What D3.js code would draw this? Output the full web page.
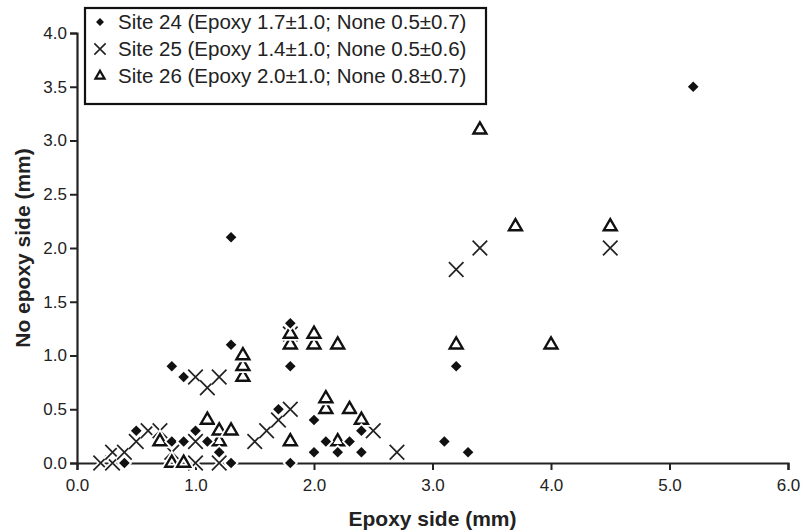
<!DOCTYPE html>
<html>
<head>
<meta charset="utf-8">
<script src="https://cdn.jsdelivr.net/npm/d3@7"></script>
<style>
  body { margin: 0; background: #fff; }
  svg { display: block; font-family: "Liberation Sans", Arial, sans-serif; }
</style>
</head>
<body>
<div id="chart"></div>
<script>
// data: [epoxy side, no epoxy side] in mm
const site24 = [[0.4,0],[0.5,0.3],[0.8,0.2],[0.8,0.9],[0.9,0.2],[0.9,0.8],[1.0,0.3],[1.1,0.2],[1.2,0.1],[1.3,0],[1.3,1.1],[1.3,2.1],
  [1.7,0.5],[1.8,0],[1.8,0.9],[1.8,1.3],[2.0,0.1],[2.0,0.4],[2.1,0.2],[2.2,0.1],[2.3,0.2],[2.4,0.1],[2.4,0.3],
  [3.1,0.2],[3.2,0.9],[3.3,0.1],[5.2,3.5]];
const site25 = [[0.2,0],[0.3,0],[0.3,0.1],[0.4,0.1],[0.5,0.2],[0.6,0.3],[0.7,0.3],[0.8,0.1],[1.0,0],[1.0,0.2],[1.0,0.8],[1.1,0.7],
  [1.2,0],[1.2,0.8],[1.5,0.2],[1.6,0.3],[1.7,0.4],[1.8,0.5],[1.8,1.2],[2.5,0.3],[2.7,0.1],[3.2,1.8],[3.4,2.0],[4.5,2.0]];
const site26 = [[0.7,0.2],[0.8,0],[0.9,0],[1.1,0.4],[1.2,0.2],[1.2,0.3],[1.3,0.3],[1.4,0.8],[1.4,0.9],[1.4,1.0],[1.8,0.2],
  [1.8,1.1],[1.8,1.2],[2.0,1.1],[2.0,1.2],[2.1,0.5],[2.1,0.6],[2.2,0.2],[2.2,1.1],[2.3,0.5],[2.4,0.4],[3.2,1.1],
  [3.4,3.1],[3.7,2.2],[4.0,1.1],[4.5,2.2]];
const seriesNames = ["Site 24 (Epoxy 1.7\u00b11.0; None 0.5\u00b10.7)",
                     "Site 25 (Epoxy 1.4\u00b11.0; None 0.5\u00b10.6)",
                     "Site 26 (Epoxy 2.0\u00b11.0; None 0.8\u00b10.7)"];
const xTicks = [0, 1, 2, 3, 4, 5, 6];
const yTicks = [0, 0.5, 1, 1.5, 2, 2.5, 3, 3.5, 4];

const W = 803, H = 532;
const margin = {top: 33, right: 15, bottom: 69, left: 77};

const svg = d3.select('#chart').append('svg')
  .attr('width', W)
  .attr('height', H);

const x = d3.scaleLinear().domain([0, 6]).range([margin.left, W - margin.right]);
const y = d3.scaleLinear().domain([0, 4]).range([H - margin.bottom, margin.top]);

// axes
const xAxis = svg.append('g')
  .attr('transform', `translate(0,${y(0)})`)
  .call(d3.axisBottom(x).tickValues(xTicks).tickFormat(d3.format('.1f')).tickSizeOuter(0).tickSize(7).tickPadding(9));
const yAxis = svg.append('g')
  .attr('transform', `translate(${x(0)},0)`)
  .call(d3.axisLeft(y).tickValues(yTicks).tickFormat(d3.format('.1f')).tickSizeOuter(0).tickSize(7).tickPadding(3));

[xAxis, yAxis].forEach(a => {
  a.select('.domain').attr('stroke', '#222').attr('stroke-width', 2.2);
  a.selectAll('.tick line').attr('stroke', '#222').attr('stroke-width', 2);
  a.selectAll('.tick text').attr('fill', '#222').style('font-size', '17px');
});

svg.append('text')
  .attr('x', (x(0) + x(6)) / 2).attr('y', 526)
  .attr('text-anchor', 'middle')
  .style('font-size', '21px').style('font-weight', 'bold').attr('fill', '#222')
  .text('Epoxy side (mm)');
svg.append('text')
  .attr('transform', `translate(30,${(y(0) + y(4)) / 2}) rotate(-90)`)
  .attr('text-anchor', 'middle')
  .style('font-size', '21px').style('font-weight', 'bold').attr('fill', '#222')
  .text('No epoxy side (mm)');

// marker shapes, one per site
const markers = [
  {path: d3.symbol().type(d3.symbolDiamond2).size(72)(), fill: '#111', stroke: 'none', sw: 0},
  {path: d3.symbol().type(d3.symbolTimes).size(140)(), fill: 'none', stroke: '#222', sw: 1.7},
  {path: d3.symbol().type(d3.symbolTriangle2).size(120)(), fill: 'none', stroke: '#111', sw: 2.4}
];
const legendMarkers = [
  {path: d3.symbol().type(d3.symbolDiamond2).size(40)(), fill: '#111', stroke: 'none', sw: 0},
  {path: d3.symbol().type(d3.symbolTimes).size(85)(), fill: 'none', stroke: '#222', sw: 1.6},
  {path: d3.symbol().type(d3.symbolTriangle2).size(60)(), fill: 'none', stroke: '#111', sw: 2.2}
];

function drawMarker(g, m) {
  // white halo first, the way the original breaks the axis line round each mark
  g.append('path').attr('d', m.path)
    .attr('fill', m.fill === 'none' ? 'none' : '#fff')
    .attr('stroke', '#fff').attr('stroke-width', m.sw + 3.5);
  g.append('path').attr('d', m.path)
    .attr('fill', m.fill).attr('stroke', m.stroke).attr('stroke-width', m.sw)
    .attr('stroke-linejoin', 'miter');
}

// crosses first, then triangles, diamonds on top
const points = svg.append('g').attr('class', 'points');
[[site25, 1], [site26, 2], [site24, 0]].forEach(([data, i]) => {
  points.selectAll(null)
    .data(data)
    .join('g')
    .attr('transform', d => `translate(${x(d[0])},${y(d[1])})`)
    .each(function () { drawMarker(d3.select(this), markers[i]); });
});

// legend
const legend = svg.append('g').attr('transform', 'translate(85,8)');
legend.append('rect')
  .attr('width', 401).attr('height', 96)
  .attr('fill', '#fff').attr('stroke', '#111').attr('stroke-width', 2.2);
seriesNames.forEach((name, i) => {
  const row = legend.append('g').attr('transform', `translate(0,${14 + i * 27})`);
  const mg = row.append('g').attr('transform', 'translate(15,0)');
  drawMarker(mg, legendMarkers[i]);
  row.append('text')
    .attr('x', 33).attr('y', 0).attr('dy', '0.35em')
    .style('font-size', '20.5px').attr('fill', '#222')
    .text(name);
});
</script>
</body>
</html>
